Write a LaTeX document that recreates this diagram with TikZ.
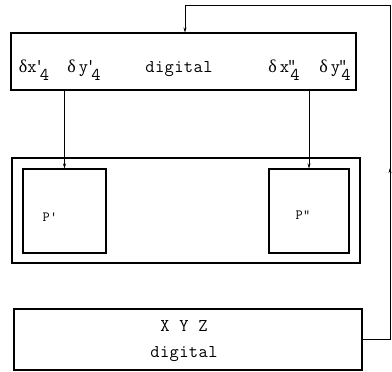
\documentclass[tikz,border=0pt]{standalone}
\usepackage{fontspec}
\newfontfamily\tw[LetterSpace=2]{Latin Modern Mono}
\newfontfamily\grk{Liberation Serif}
\newcommand{\dlt}{{\grk δ}}
\newcommand{\pr}[1]{\raisebox{1pt}{#1}}
\newcommand{\sub}{\raisebox{-0.5em}{4}}
\usetikzlibrary{arrows.meta}
\begin{document}
\begin{tikzpicture}[x=1pt,y=-1pt,
  box/.style={draw, line width=1.1pt, inner sep=0pt},
  conn/.style={line width=0.5pt},
  arr/.style={conn, -{Stealth[length=5pt,width=3pt]}},
  lbl/.style={inner sep=0pt, font=\tw\fontsize{18}{20}\selectfont, anchor=base}]
\useasboundingbox (0,0) rectangle (392,372);
\node[box, minimum width=345pt, minimum height=57pt] (top) at (183.5,61.5) {};
\node[box, minimum width=348pt, minimum height=105pt] (mid) at (186,210.5) {};
\node[box, minimum width=83pt, minimum height=84pt] (p1) at (64.5,211) {};
\node[box, minimum width=80pt, minimum height=84pt] (p2) at (309,211) {};
\node[box, minimum width=348pt, minimum height=61pt] (bot) at (188,339.5) {};
% texts top
\node[lbl] (t1) at (34,72) {\dlt x\kern-2pt\pr{'}\kern-4pt\sub};
\node[lbl] (t2) at (84,72) {\dlt\,y\kern-2pt\pr{'}\kern-4pt\sub};
\node[lbl] (t3) at (179,72) {digital};
\node[lbl] (t4) at (284,72) {\dlt\,x\kern-2pt\pr{"}\kern-6pt\sub};
\node[lbl] (t5) at (335,72) {\dlt\,y\kern-2pt\pr{"}\kern-6pt\sub};
% P labels
\node[lbl, font=\tw\fontsize{14}{16}\selectfont] (l1) at (50,221) {P'};
\node[lbl, font=\tw\fontsize{14}{16}\selectfont] (l2) at (303,219) {P"};
% bottom texts
\node[lbl] (b1) at (184,331) {X Y Z};
\node[lbl] (b2) at (184,357) {digital};
% connectors
\draw[arr] (p1.north |- top.south) -- (p1.north);
\draw[arr] (p2.north |- top.south) -- (p2.north);
\coordinate (c1) at (390,339.5);
\coordinate (c2) at (390,5);
\coordinate (c3) at (185,5);
\coordinate (c4) at (390,168);
\draw[arr] (bot.east) -- (c1) -- (c2) -- (c3) -- (c3 |- top.north);
\draw[arr] (c1) -- (c4);
\end{tikzpicture}
\end{document}
